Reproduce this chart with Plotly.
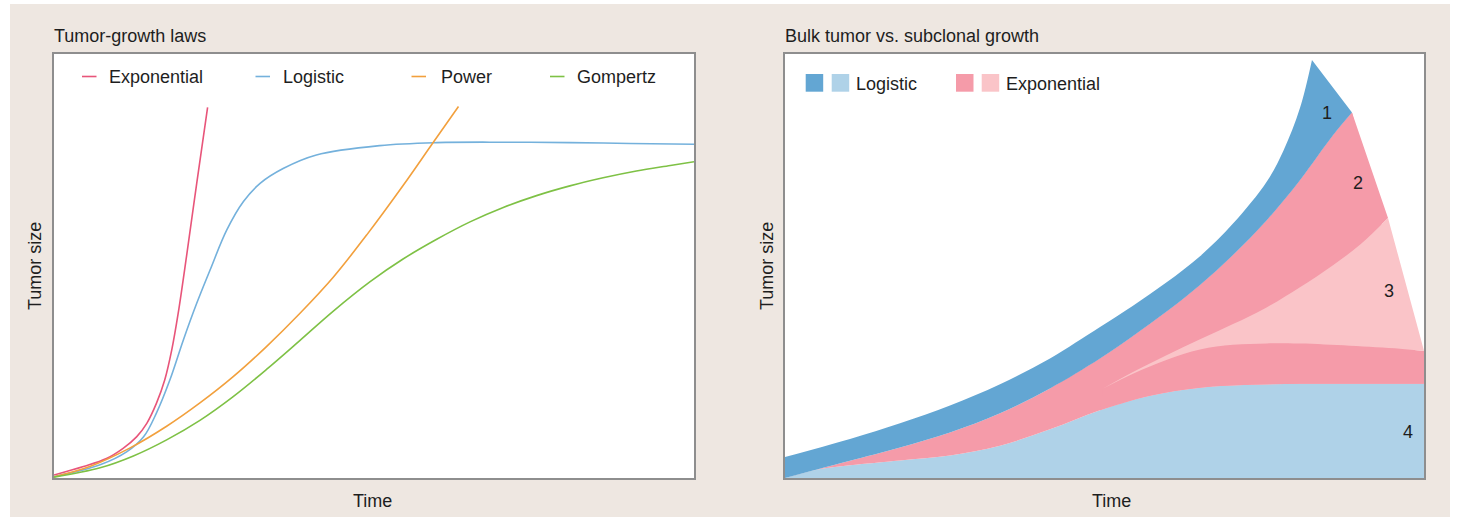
import plotly.graph_objects as go

W, H = 1458, 517

# ---------------- Tumor-growth laws (time, tumor size in % of axis) ----------------
exp_t = [0, 4.6, 8.2, 10.8, 12.9, 14.5, 16.0, 17.3, 18.4, 19.4, 20.7, 22.3, 24.0]
exp_s = [0.7, 2.7, 4.6, 7.0, 9.7, 12.9, 17.6, 23.1, 30.2, 38.8, 52.2, 69.5, 87.4]

log_t = [0, 7.2, 11.4, 14.0, 16.0, 18.1, 20.2, 22.3, 24.4, 27.0, 29.6, 32.2, 35.8,
         41.0, 50.9, 59.8, 70.0, 80.6, 90.0, 100]
log_s = [0.3, 3.1, 6.2, 9.7, 15.3, 23.1, 32.5, 41.2, 49.1, 58.5, 65.2, 69.5, 73.0,
         76.2, 78.4, 79.1, 79.2, 79.1, 78.9, 78.7]

pow_t = [0, 5.6, 11.9, 17.6, 22.8, 28.0, 33.2, 38.4, 43.6, 48.9, 54.6, 59.0, 63.2]
pow_s = [0.3, 2.7, 7.1, 12.2, 17.7, 23.9, 31.0, 38.8, 47.3, 57.4, 69.1, 78.6, 87.6]

gom_t = [0, 7.2, 12.4, 17.6, 22.8, 28.0, 33.2, 38.4, 43.6, 49.4, 54.6, 59.8, 65.0,
         70.2, 75.4, 80.6, 85.8, 91.0, 96.3, 100]
gom_s = [0.2, 2.4, 5.2, 9.0, 13.6, 19.2, 25.6, 32.4, 39.3, 46.3, 51.7, 56.3, 60.4,
         63.8, 66.6, 68.9, 70.8, 72.4, 73.7, 74.6]

law_names = ["Exponential", "Logistic", "Power", "Gompertz"]
law_colors = ["#E8557A", "#74B1DC", "#F2A03D", "#7EC145"]

# ---------------- Bulk tumor vs. subclonal growth: clone boundaries ----------------
# top of clone 1 (whole tumor)
c1_top_t = [0, 10.17, 18.0, 25.82, 33.65, 41.47, 49.3, 54.46, 59.78, 64.95, 70.11,
            75.43, 78.0, 80.6, 82.47]
c1_top_s = [4.95, 9.22, 12.9, 17.1, 22.1, 28.2, 35.6, 40.6, 46.2, 52.3, 60.0,
            70.0, 77.2, 87.3, 98.58]
# boundary clone 1 / clone 2
c2_top_t = [0, 5.01, 10.17, 18.0, 25.82, 33.65, 41.47, 49.3, 54.46, 59.78, 64.95,
            70.11, 75.43, 80.59, 85.76, 88.73]
c2_top_s = [0, 2.0, 4.06, 7.19, 10.71, 15.25, 21.12, 28.17, 33.48, 39.33, 45.53,
            52.6, 60.85, 70.24, 80.84, 86.19]
# upper boundary of clone 3 (emerging inside clone 2)
c3_top_t = [49.77, 54.46, 59.78, 64.95, 70.11, 75.43, 80.59, 85.76, 89.98, 94.37]
c3_top_s = [21.1, 25.0, 29.0, 32.7, 36.3, 40.3, 45.0, 50.2, 55.0, 61.32]
# lower boundary of clone 3
c3_low_t = [49.77, 54.46, 59.78, 64.95, 70.11, 75.43, 80.59, 88.42, 96.24, 100]
c3_low_s = [21.1, 24.6, 27.9, 30.3, 31.4, 31.75, 31.7, 31.2, 30.5, 30.0]
# top of clone 4
c4_top_t = [0, 4.96, 10.17, 18.0, 25.82, 33.65, 41.47, 49.3, 57.12, 64.95, 72.77,
            80.59, 90.0, 100]
c4_top_s = [0, 1.95, 3.0, 4.15, 5.3, 7.6, 11.5, 16.0, 19.4, 21.3, 22.0,
            22.2, 22.2, 22.2]

clone_labels = ["1", "2", "3", "4"]
clone_label_t = [84.77, 89.72, 94.57, 97.45]
clone_label_s = [86.16, 69.65, 44.18, 10.85]

DARK_BLUE, LIGHT_BLUE = "#63A6D3", "#AFD2E8"
DARK_PINK, LIGHT_PINK = "#F59BA9", "#FAC4C8"

TEXT = "#1E1E1E"
FONT = "Liberation Sans, Arial, sans-serif"
FRAME = "#8E8E8E"
BEIGE = "#EEE7E1"
SMOOTH = 1.0

fig = go.Figure()

# left panel curves
for t, s, c in zip([exp_t, log_t, pow_t, gom_t], [exp_s, log_s, pow_s, gom_s], law_colors):
    fig.add_trace(go.Scatter(
        x=t, y=s, mode="lines", xaxis="x", yaxis="y",
        line=dict(color=c, width=1.6, shape="spline", smoothing=SMOOTH),
        showlegend=False, hoverinfo="skip"))


def boundary(t, s, fill=None, color=None):
    fig.add_trace(go.Scatter(
        x=t, y=s, mode="lines", xaxis="x2", yaxis="y2",
        line=dict(width=1, color="rgba(0,0,0,0)", shape="spline", smoothing=SMOOTH),
        fill=fill if fill else "none", fillcolor=color,
        showlegend=False, hoverinfo="skip"))


# clone 4 (light blue)
boundary(c4_top_t, c4_top_s, "tozeroy", LIGHT_BLUE)
# clone 2 (dark pink) between clone-4 top and clone-1 base
boundary(c4_top_t, c4_top_s)
boundary(c2_top_t, c2_top_s, "tonexty", DARK_PINK)
# clone 2 above clone 3
boundary(c3_top_t, c3_top_s)
boundary(c2_top_t[6:], c2_top_s[6:], "tonexty", DARK_PINK)
# clone 2 below clone 3
boundary(c4_top_t[7:], c4_top_s[7:])
boundary(c3_low_t, c3_low_s, "tonexty", DARK_PINK)
# clone 3 (light pink)
boundary(c3_low_t, c3_low_s)
boundary(c3_top_t, c3_top_s, "tonexty", LIGHT_PINK)
# clone 1 (dark blue)
boundary(c2_top_t, c2_top_s)
boundary(c1_top_t, c1_top_s, "tonexty", DARK_BLUE)


def px(x):
    return x / W


def py(y):
    return 1 - y / H


annotations = []


def label(text, x, y, xanchor="left", angle=0, xref="paper", yref="paper"):
    annotations.append(dict(
        text=text, x=x, y=y, xref=xref, yref=yref, xanchor=xanchor, yanchor="middle",
        showarrow=False, textangle=angle, font=dict(family=FONT, size=18, color=TEXT)))


# titles and axis titles
label("Tumor-growth laws", px(52), py(35.5))
label("Bulk tumor vs. subclonal growth", px(783), py(35.5))
label("Time", px(372.5), py(501), "center")
label("Time", px(1111.5), py(501), "center")
label("Tumor size", px(35), py(266), "center", -90)
label("Tumor size", px(767), py(266), "center", -90)

# clone numbers
for txt, t, s in zip(clone_labels, clone_label_t, clone_label_s):
    label(txt, t, s, "center", xref="x2", yref="y2")

shapes = []

# left legend: short line keys with names
key_x0 = [82, 255.5, 411.5, 550]
text_x = [106.5, 281, 438.5, 575]
for x0, tx, name, c in zip(key_x0, text_x, law_names, law_colors):
    shapes.append(dict(type="line", xref="paper", yref="paper",
                       x0=px(x0), x1=px(x0 + 14.5), y0=py(76.5), y1=py(76.5),
                       line=dict(color=c, width=1.6)))
    label(name, px(tx), py(77.5))

# right legend: paired colour squares
for x0, c in zip([805.7, 831.7, 956, 981.7], [DARK_BLUE, LIGHT_BLUE, DARK_PINK, LIGHT_PINK]):
    shapes.append(dict(type="rect", xref="paper", yref="paper",
                       x0=px(x0), x1=px(x0 + 17.5), y0=py(91.7), y1=py(74),
                       fillcolor=c, line=dict(width=0)))
label("Logistic", px(854), py(83.5))
label("Exponential", px(1004), py(83.5))

# white border strips around the beige panel
for x0, x1, y0, y1 in [(0, 10, 0, H), (1450, W, 0, H), (0, W, 0, 4)]:
    shapes.append(dict(type="rect", xref="paper", yref="paper",
                       x0=px(x0), x1=px(x1), y0=py(y1), y1=py(y0),
                       fillcolor="white", line=dict(width=0), layer="above"))

axis_style = dict(showline=True, mirror=True, linecolor=FRAME, linewidth=1.5,
                  showticklabels=False, ticks="", showgrid=False, zeroline=False,
                  range=[0, 100], fixedrange=True)

fig.update_layout(
    width=W, height=H,
    margin=dict(l=0, r=0, t=0, b=0),
    paper_bgcolor=BEIGE, plot_bgcolor="white",
    xaxis=dict(domain=[px(54), px(694)], anchor="y", **axis_style),
    yaxis=dict(domain=[py(478), py(54)], anchor="x", **axis_style),
    xaxis2=dict(domain=[px(785), px(1424)], anchor="y2", **axis_style),
    yaxis2=dict(domain=[py(478), py(54)], anchor="x2", **axis_style),
    annotations=annotations,
    shapes=shapes,
    showlegend=False,
)

fig.write_html("out.html")
